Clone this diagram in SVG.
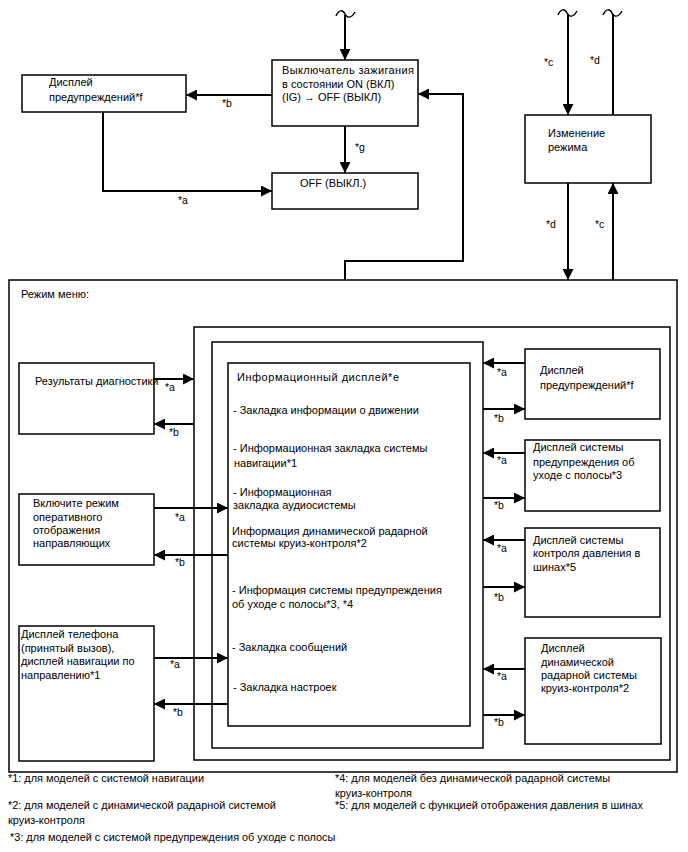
<svg xmlns="http://www.w3.org/2000/svg" width="688" height="852" viewBox="0 0 688 852">
<style>
.box{fill:#fff;stroke:#000;stroke-width:1.5}
.frame{fill:none;stroke:#000;stroke-width:1.5}
.t{font-family:"Liberation Sans",Arial,sans-serif;font-size:11px;fill:#000}
.l{font-family:"Liberation Sans",Arial,sans-serif;font-size:10.5px;fill:#000}
.fn{font-family:"Liberation Sans",Arial,sans-serif;font-size:10.9px;fill:#000}
.c{fill:none;stroke:#000;stroke-width:2}
.ca{fill:none;stroke:#000;stroke-width:2;marker-end:url(#ah)}
.tl{fill:none;stroke:#000;stroke-width:1.5}
</style>
<defs>
<marker id="ah" markerUnits="userSpaceOnUse" markerWidth="12" markerHeight="11" refX="11" refY="5.5" orient="auto">
<path d="M0,0 L11,5.5 L0,11 z" fill="#000"/>
</marker>
</defs>
<rect width="688" height="852" fill="#fff"/>

<g id="menu">
<rect class="frame" x="9" y="280" width="668" height="492"/>
<text class="t" x="21" y="298">Режим меню:</text>
</g>
<g id="frame1"><rect class="frame" x="194" y="327" width="476" height="433"/></g>
<g id="frame2"><rect class="frame" x="212" y="342" width="271" height="406"/></g>

<g id="ig">
<rect class="box" x="272" y="60" width="146" height="66"/>
<text class="t" x="282" y="74" textLength="132" lengthAdjust="spacing">Выключатель зажигания</text>
<text class="t" x="282" y="88">в состоянии ON (ВКЛ)</text>
<text class="t" x="282" y="101">(IG) → OFF (ВЫКЛ)</text>
</g>
<g id="warn-top">
<rect class="box" x="22" y="75" width="164" height="37"/>
<text class="t" x="49" y="86">Дисплей</text>
<text class="t" x="49" y="101">предупреждений*f</text>
</g>
<g id="off">
<rect class="box" x="272" y="173" width="146" height="36"/>
<text class="t" x="300" y="187">OFF (ВЫКЛ.)</text>
</g>
<g id="mode">
<rect class="box" x="525" y="115" width="126" height="68"/>
<text class="t" x="548" y="137">Изменение</text>
<text class="t" x="548" y="151">режима</text>
</g>

<g id="info">
<rect class="box" x="228" y="363" width="242" height="363"/>
<text class="t" x="237" y="381" textLength="162" lengthAdjust="spacing">Информационный дисплей*e</text>
<text class="t" x="233" y="414">- Закладка информации о движении</text>
<text class="t" x="233" y="452">- Информационная закладка системы</text>
<text class="t" x="234" y="467">навигации*1</text>
<text class="t" x="233" y="496">- Информационная</text>
<text class="t" x="233" y="509">закладка аудиосистемы</text>
<text class="t" x="232" y="535">Информация динамической радарной</text>
<text class="t" x="232" y="547">системы круиз-контроля*2</text>
<text class="t" x="232" y="594">- Информация системы предупреждения</text>
<text class="t" x="232" y="608">об уходе с полосы*3, *4</text>
<text class="t" x="232" y="651">- Закладка сообщений</text>
<text class="t" x="233" y="691">- Закладка настроек</text>
</g>

<g id="diag">
<rect class="box" x="19" y="363" width="135" height="71"/>
<text class="t" x="35" y="385">Результаты диагностики</text>
</g>
<g id="guide">
<rect class="box" x="19" y="494" width="135" height="71"/>
<text class="t" x="33" y="507">Включите режим</text>
<text class="t" x="33" y="521">оперативного</text>
<text class="t" x="33" y="534">отображения</text>
<text class="t" x="33" y="547">направляющих</text>
</g>
<g id="phone">
<rect class="box" x="19" y="626" width="135" height="135"/>
<text class="t" x="21" y="638">Дисплей телефона</text>
<text class="t" x="21" y="652">(принятый вызов),</text>
<text class="t" x="21" y="665">дисплей навигации по</text>
<text class="t" x="21" y="679">направлению*1</text>
</g>

<g id="warn-right">
<rect class="box" x="525" y="349" width="135" height="70"/>
<text class="t" x="540" y="374">Дисплей</text>
<text class="t" x="540" y="389">предупреждений*f</text>
</g>
<g id="lane">
<rect class="box" x="525" y="440" width="135" height="71"/>
<text class="t" x="533" y="451">Дисплей системы</text>
<text class="t" x="533" y="466">предупреждения об</text>
<text class="t" x="533" y="479">уходе с полосы*3</text>
</g>
<g id="tire">
<rect class="box" x="525" y="528" width="135" height="89"/>
<text class="t" x="533" y="544">Дисплей системы</text>
<text class="t" x="533" y="557">контроля давления в</text>
<text class="t" x="533" y="571">шинах*5</text>
</g>
<g id="radar">
<rect class="box" x="525" y="638" width="136" height="106"/>
<text class="t" x="541" y="652">Дисплей</text>
<text class="t" x="541" y="666">динамической</text>
<text class="t" x="541" y="679">радарной системы</text>
<text class="t" x="541" y="692">круиз-контроля*2</text>
</g>

<g id="connectors">
<path class="tl" d="M336,16 C339,9 343,10 345,14 C347,18 351,19 355,12"/>
<path class="ca" d="M345,15 V60"/>
<path class="ca" d="M272,95 H186"/>
<text class="l" x="222" y="107">*b</text>
<path class="ca" d="M103,112 V191 H272"/>
<text class="l" x="178" y="204">*a</text>
<path class="ca" d="M345,126 V173"/>
<text class="l" x="355" y="151">*g</text>
<path class="ca" d="M345,280 V261 H463 V94 H418"/>

<path class="tl" d="M558,15 C561,8 565,9 567,13 C569,17 573,18 577,11"/>
<path class="ca" d="M568,14 V115"/>
<text class="l" x="544" y="66">*c</text>
<path class="tl" d="M603,15 C606,8 610,9 612,13 C614,17 618,18 622,11"/>
<path class="c" d="M613,115 V14"/>
<text class="l" x="590" y="64">*d</text>
<path class="ca" d="M568,183 V280"/>
<text class="l" x="546" y="228">*d</text>
<path class="ca" d="M613,280 V183"/>
<text class="l" x="595" y="228">*c</text>

<path class="ca" d="M154,379 H194"/>
<text class="l" x="165" y="391">*a</text>
<path class="ca" d="M194,424 H154"/>
<text class="l" x="169" y="436">*b</text>
<path class="ca" d="M154,508 H228"/>
<text class="l" x="175" y="521">*a</text>
<path class="ca" d="M228,555 H154"/>
<text class="l" x="175" y="566">*b</text>
<path class="ca" d="M154,658 H228"/>
<text class="l" x="170" y="668">*a</text>
<path class="ca" d="M228,704 H154"/>
<text class="l" x="173" y="716">*b</text>

<path class="ca" d="M525,363 H483"/>
<text class="l" x="497" y="376">*a</text>
<path class="ca" d="M483,409 H525"/>
<text class="l" x="494" y="422">*b</text>
<path class="ca" d="M525,453 H483"/>
<text class="l" x="497" y="464">*a</text>
<path class="ca" d="M483,498 H525"/>
<text class="l" x="494" y="509">*b</text>
<path class="ca" d="M525,540 H483"/>
<text class="l" x="497" y="552">*a</text>
<path class="ca" d="M483,587 H525"/>
<text class="l" x="494" y="601">*b</text>
<path class="ca" d="M525,669 H483"/>
<text class="l" x="497" y="680">*a</text>
<path class="ca" d="M483,715 H525"/>
<text class="l" x="494" y="726">*b</text>
</g>

<g id="footnotes">
<text class="fn" x="8" y="782">*1: для моделей с системой навигации</text>
<text class="fn" x="335" y="782">*4: для моделей без динамической радарной системы</text>
<text class="fn" x="335" y="797">круиз-контроля</text>
<text class="fn" x="8" y="809">*2: для моделей с динамической радарной системой</text>
<text class="fn" x="8" y="824">круиз-контроля</text>
<text class="fn" x="335" y="809">*5: для моделей с функцией отображения давления в шинах</text>
<text class="fn" x="10" y="841">*3: для моделей с системой предупреждения об уходе с полосы</text>
</g>
</svg>
